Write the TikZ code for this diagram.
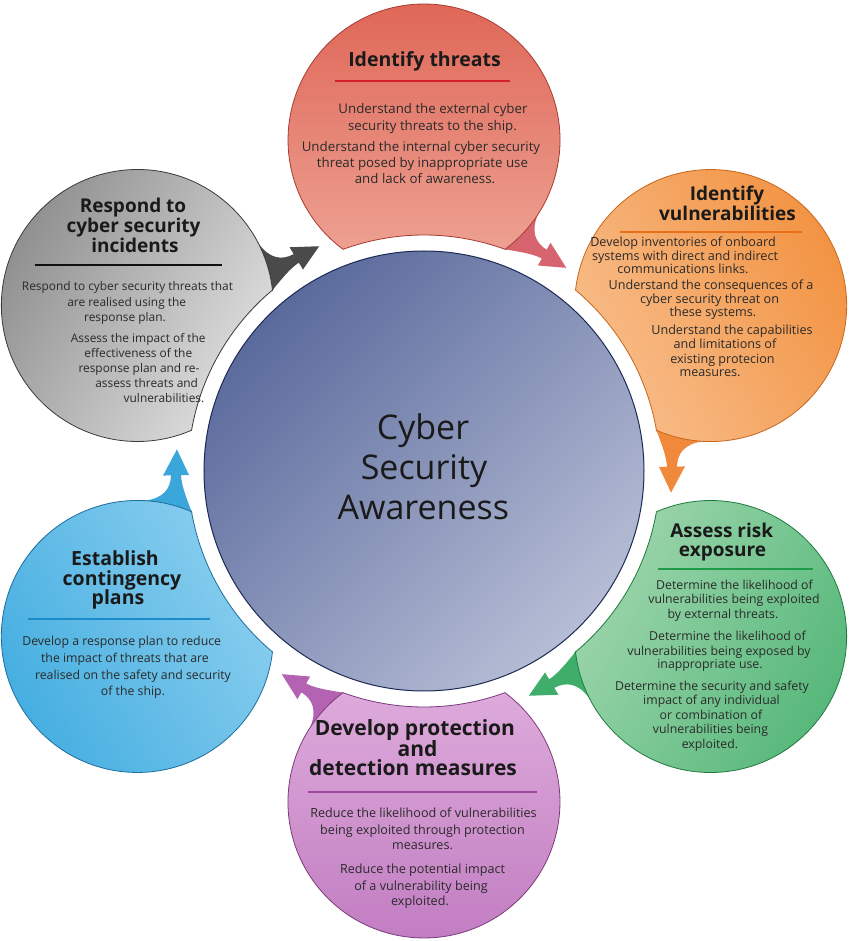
\documentclass[tikz,border=0pt]{standalone}
\usepackage{fontspec}
\setmainfont{Open Sans}
\definecolor{titlecol}{HTML}{1A1A1A}
\definecolor{bodycol}{HTML}{2A2A2A}
\definecolor{coreA}{HTML}{5A6A9C}
\definecolor{coreB}{HTML}{B6BDD5}
\definecolor{coreline}{HTML}{1D2A55}
\definecolor{redT}{HTML}{D6646E}\definecolor{redD}{HTML}{DE6354}\definecolor{redL}{HTML}{EDA091}\definecolor{redO}{HTML}{A83A34}\definecolor{redR}{HTML}{D4202A}
\definecolor{orgT}{HTML}{F0893C}\definecolor{orgD}{HTML}{F2913F}\definecolor{orgL}{HTML}{F8BE8C}\definecolor{orgO}{HTML}{C8661C}\definecolor{orgR}{HTML}{E8701A}
\definecolor{grnT}{HTML}{3FAE6A}\definecolor{grnD}{HTML}{55B779}\definecolor{grnL}{HTML}{9ED6AD}\definecolor{grnO}{HTML}{1F7A3E}\definecolor{grnR}{HTML}{1E9A48}
\definecolor{purT}{HTML}{B462B2}\definecolor{purD}{HTML}{C07AC0}\definecolor{purL}{HTML}{DDAADB}\definecolor{purO}{HTML}{7E3A7C}\definecolor{purR}{HTML}{A04A9E}
\definecolor{bluT}{HTML}{3AA6DA}\definecolor{bluD}{HTML}{42ADE0}\definecolor{bluL}{HTML}{8CCFEF}\definecolor{bluO}{HTML}{1C6E9E}\definecolor{bluR}{HTML}{1A8CCC}
\definecolor{gryT}{HTML}{4A4A4A}\definecolor{gryD}{HTML}{8E8E8E}\definecolor{gryL}{HTML}{E0E0E0}\definecolor{gryO}{HTML}{3A3A3A}\definecolor{gryR}{HTML}{101010}
% #1 rotation, #2 tail, #3 outer colour, #4 inner colour, #5 outline
\newcommand\mybubble[5]{%
\begin{scope}[rotate=#1]
\fill[#2] (69.94:236) .. controls (66.5:239) and (63.5:243) .. (61:243) -- (61:235) -- (55:248) -- (61:261) -- (61:253) .. controls (64:254) and (66:262) .. (114.06,256.93) -- (40,280) -- cycle;
\shadedraw[top color=#3, bottom color=#4, shading angle=#1, draw=#5, line width=0.8pt] (69.94:236) arc[start angle=-53.48, end angle=233.48, radius=136] arc[start angle=110.06, end angle=69.94, radius=236] -- cycle;
\end{scope}}
\begin{document}
\begin{tikzpicture}[x=1pt,y=1pt,
  ttl/.style={font=\bfseries\fontsize{#1}{#1}\selectfont, text=titlecol, inner sep=0pt, anchor=base},
  bodytext/.style={font=\fontsize{#1}{#1}\selectfont, text=bodycol, inner sep=0pt, anchor=base},
  rulestyle/.style={line width=2pt, draw=#1}]
\useasboundingbox (-424,-470) rectangle (426,471);
\fill[white] (-424,-470) rectangle (426,471);
% bubbles
\mybubble{0}{redT}{redD}{redL}{redO}
\mybubble{-60}{orgT}{orgD}{orgL}{orgO}
\mybubble{-120}{grnT}{grnD}{grnL}{grnO}
\mybubble{-180}{purT}{purD}{purL}{purO}
\mybubble{120}{bluT}{bluD}{bluL}{bluO}
\mybubble{60}{gryT}{gryD}{gryL}{gryO}
% centre
\node[circle, minimum size=440pt, inner sep=0pt, draw=coreline, line width=1pt, top color=coreA, bottom color=coreB, shading angle=45] (core) at (0,0) {};
\begin{scope}[shift={(-424,471)}, yscale=-1]
\node[font=\fontsize{34}{34}\selectfont, text=titlecol, inner sep=0pt, anchor=base] (c1) at (423,440) {Cyber};
\node[font=\fontsize{34}{34}\selectfont, text=titlecol, inner sep=0pt, anchor=base] (c2) at (424,480) {Security};
\node[font=\fontsize{34}{34}\selectfont, text=titlecol, inner sep=0pt, anchor=base] (c3) at (423.3,520) {Awareness};
% red
\node[ttl=19.5] (rt1) at (424.5,66.5) {Identify threats};
\draw[rulestyle=redR] (335,81) -- (510,81);
\foreach \px/\py/\tx [count=\i] in {433/114/Understand the external cyber, 432.5/130.5/security threats to the ship., 421/151.5/Understand the internal cyber security, 422.5/168/threat posed by inappropriate use, 425/184/and lack of awareness.}
  \node[bodytext=13.3] (rb\i) at (\px,\py) {\tx};
% orange
\node[ttl=19] (ot1) at (727,200.5) {Identify};
\node[ttl=19] (ot2) at (727.5,220.5) {vulnerabilities};
\draw[rulestyle=orgR] (620,232) -- (802,232);
\foreach \px/\py/\tx [count=\i] in {683/247/Develop inventories of onboard, 685/260.3/systems with direct and indirect, 683/273.6/communications links., 711/290/Understand the consequences of a, 709.5/303.3/cyber security threat on, 713/316.7/these systems., 732/335/Understand the capabilities, 725/349/and limitations of, 722.5/363.3/existing protecion, 710/376.7/measures.}
  \node[bodytext=12.6] (ob\i) at (\px,\py) {\tx};
% green
\node[ttl=19] (gt1) at (721.7,537.5) {Assess risk};
\node[ttl=19] (gt2) at (722.5,556.5) {exposure};
\draw[rulestyle=grnR] (658,569) -- (813,569);
\foreach \px/\py/\tx [count=\i] in {734.5/589/Determine the likelihood of, 734/603.3/vulnerabilities being exploited, 723/618.3/by external threats., 727.5/640.7/Determine the likelihood of, 719/655/vulnerabilities being exposed by, 710/668.3/inappropriate use., 712/690/Determine the security and safety, 711.5/704.3/impact of any individual, 711/719.3/or combination of, 710.5/733.3/vulnerabilities being, 710/748.3/exploited.}
  \node[bodytext=12.3] (gb\i) at (\px,\py) {\tx};
% purple
\node[ttl=21] (pt1) at (415,735.5) {Develop protection};
\node[ttl=21] (pt2) at (417.5,756.5) {and};
\node[ttl=21] (pt3) at (413,775.5) {detection measures};
\draw[rulestyle=purR] (308,792) -- (537,792);
\foreach \px/\py/\tx [count=\i] in {423.5/817.7/Reduce the likelihood of vulnerabilities, 422.5/834/being exploited through protection, 422.5/849.3/measures., 422.5/873.3/Reduce the potential impact, 421/890/of a vulnerability being, 420/905.7/exploited.}
  \node[bodytext=12.6] (pb\i) at (\px,\py) {\tx};
% blue
\node[ttl=19.5] (bt1) at (115,566) {Establish};
\node[ttl=19.5] (bt2) at (122,585.5) {contingency};
\node[ttl=19.5] (bt3) at (118,604.5) {plans};
\draw[rulestyle=bluR] (28,618.5) -- (210,618.5);
\foreach \px/\py/\tx [count=\i] in {121.7/645/Develop a response plan to reduce, 125/662.3/the impact of threats that are, 133/679/realised on the safety and security, 133/695/of the ship.}
  \node[bodytext=12.3] (bb\i) at (\px,\py) {\tx};
% gray
\node[ttl=19] (yt1) at (133,213) {Respond to};
\node[ttl=19] (yt2) at (133.5,233) {cyber security};
\node[ttl=19] (yt3) at (135,252.5) {incidents};
\draw[rulestyle=gryR] (35,265) -- (222,265);
\foreach \px/\py/\tx [count=\i] in {127.5/290.7/Respond to cyber security threats that, 126.7/306.7/are realised using the, 125/321.7/response plan., 138.3/342.7/Assess the impact of the, 138.3/357.7/effectiveness of the, 139/372.3/response plan and re-, 146.7/387.3/assess threats and, 164/402.3/vulnerabilities.}
  \node[bodytext=11.9] (yb\i) at (\px,\py) {\tx};
\end{scope}
\end{tikzpicture}
\end{document}
